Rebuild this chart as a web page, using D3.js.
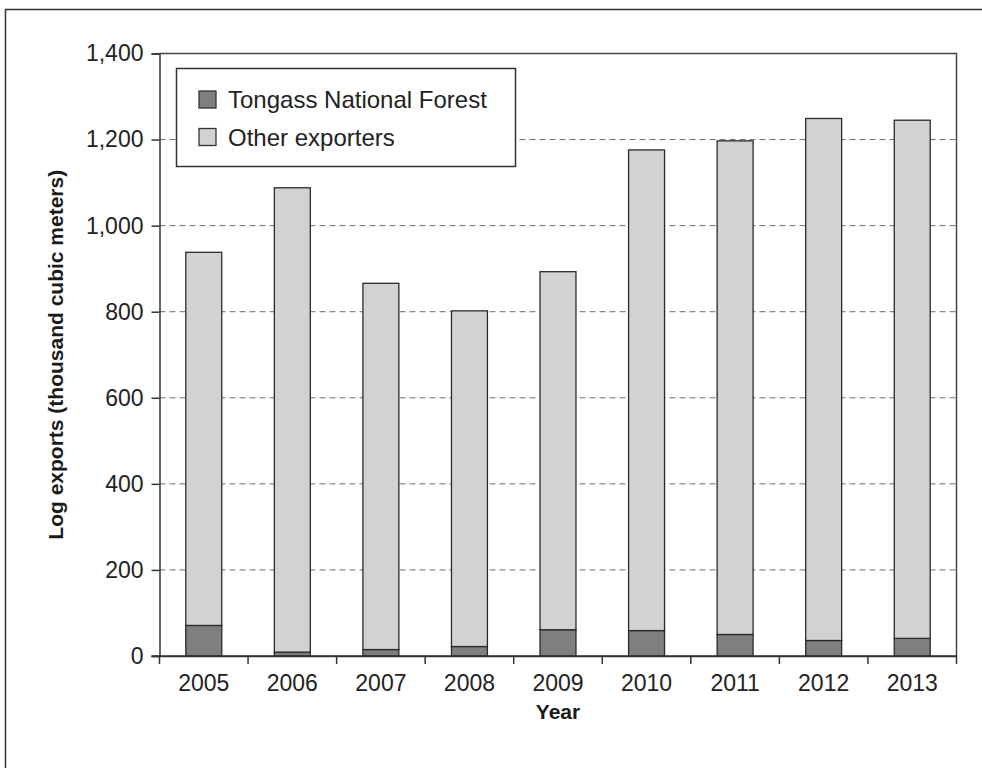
<!DOCTYPE html>
<html><head><meta charset="utf-8">
<script src="https://cdn.jsdelivr.net/npm/d3@7/dist/d3.min.js"></script>
<style>body{margin:0;background:#fff}svg{display:block}</style>
</head><body>
<script>
const years = ["2005","2006","2007","2008","2009","2010","2011","2012","2013"];
const tongass = [71, 9, 15, 22, 61, 59, 50, 36, 41];
const totals = [938, 1088, 866, 802, 893, 1176, 1197, 1249, 1245];
const other = totals.map((t, i) => t - tongass[i]);
const yTicks = [0, 200, 400, 600, 800, 1000, 1200, 1400];
const seriesNames = ["Tongass National Forest", "Other exporters"];
const seriesColors = ["#7f7f82", "#d1d2d4"];

const W = 982, H = 768;
const m = {left: 159.5, right: 956.5, top: 53.5, bottom: 656};
const font = "'Liberation Sans', Arial, sans-serif";
const svg = d3.select("body").append("svg").attr("width", W).attr("height", H);

// outer frame
svg.append("rect").attr("x", 5.5).attr("y", 9.5).attr("width", W + 10).attr("height", H + 10)
  .attr("fill", "none").attr("stroke", "#333").attr("stroke-width", 1.5);

const x = d3.scaleBand().domain(years).range([m.left, m.right]).paddingInner(0.594).paddingOuter(0.297);
const y = d3.scaleLinear().domain([0, 1400]).range([m.bottom, m.top]);

// gridlines
svg.append("g").selectAll("line").data(yTicks.filter(d => d > 0 && d < 1400)).join("line")
  .attr("x1", m.left).attr("x2", m.right).attr("y1", d => y(d)).attr("y2", d => y(d))
  .attr("stroke", "#6e6e6e").attr("stroke-width", 1).attr("stroke-dasharray", "6,4");

// plot frame (top + right)
svg.append("path").attr("d", `M${m.left},${m.top}H${m.right}V${m.bottom}`)
  .attr("fill", "none").attr("stroke", "#444").attr("stroke-width", 1.5);

// stacked bars
const stackData = years.map((yr, i) => ({year: yr, t: tongass[i], o: other[i]}));
const stack = d3.stack().keys(["t", "o"])(stackData);
svg.append("g").selectAll("g").data(stack).join("g")
  .attr("fill", (d, i) => seriesColors[i])
  .selectAll("rect").data(d => d).join("rect")
  .attr("x", d => x(d.data.year)).attr("width", x.bandwidth())
  .attr("y", d => y(d[1])).attr("height", d => y(d[0]) - y(d[1]))
  .attr("stroke", "#2a2a2a").attr("stroke-width", 1.3);

// y axis
const yAxis = svg.append("g").attr("transform", `translate(${m.left},0)`)
  .call(d3.axisLeft(y).tickValues(yTicks).tickFormat(d3.format(",")).tickSizeOuter(0).tickSize(8).tickPadding(8));
// x axis
const xAxis = svg.append("g").attr("transform", `translate(0,${m.bottom})`)
  .call(d3.axisBottom(x).tickValues([]).tickSizeOuter(0));
// category boundary ticks
svg.append("g").selectAll("line").data(d3.range(years.length + 1)).join("line")
  .attr("x1", i => m.left + i * (m.right - m.left) / years.length)
  .attr("x2", i => m.left + i * (m.right - m.left) / years.length)
  .attr("y1", m.bottom).attr("y2", m.bottom + 8).attr("stroke", "#333").attr("stroke-width", 1.5);
svg.append("g").selectAll("text").data(years).join("text")
  .attr("x", d => x(d) + x.bandwidth() / 2).attr("y", m.bottom + 35)
  .attr("text-anchor", "middle").attr("font-family", font).attr("font-size", 23).attr("fill", "#222").text(d => d);
svg.append("line").attr("x1", m.left - 8).attr("x2", m.right).attr("y1", m.bottom).attr("y2", m.bottom)
  .attr("stroke", "#333").attr("stroke-width", 1.5);

[yAxis, xAxis].forEach(g => {
  g.selectAll(".domain").attr("stroke", "#333").attr("stroke-width", 1.5);
  g.selectAll(".tick line").attr("stroke", "#333").attr("stroke-width", 1.5);
  g.selectAll("text").attr("font-family", font).attr("font-size", 23).attr("fill", "#222");
});

// axis titles
svg.append("text").attr("transform", `translate(63,${(m.top + m.bottom) / 2}) rotate(-90)`)
  .attr("text-anchor", "middle").attr("font-family", font).attr("font-weight", "bold")
  .attr("font-size", 21).attr("fill", "#1a1a1a").text("Log exports (thousand cubic meters)");
svg.append("text").attr("x", (m.left + m.right) / 2).attr("y", 719)
  .attr("text-anchor", "middle").attr("font-family", font).attr("font-weight", "bold")
  .attr("font-size", 21).attr("fill", "#1a1a1a").text("Year");

// legend
const lg = svg.append("g");
lg.append("rect").attr("x", 176.5).attr("y", 68.5).attr("width", 339).attr("height", 98)
  .attr("fill", "#fff").attr("stroke", "#333").attr("stroke-width", 1.5);
seriesNames.forEach((n, i) => {
  lg.append("rect").attr("x", 199).attr("y", 91 + i * 37.5).attr("width", 17).attr("height", 17)
    .attr("fill", seriesColors[i]).attr("stroke", "#333").attr("stroke-width", 1.3);
  lg.append("text").attr("x", 228).attr("y", 108 + i * 37.5).attr("font-family", font)
    .attr("font-size", 24).attr("fill", "#222").text(n);
});
</script>
</body></html>
